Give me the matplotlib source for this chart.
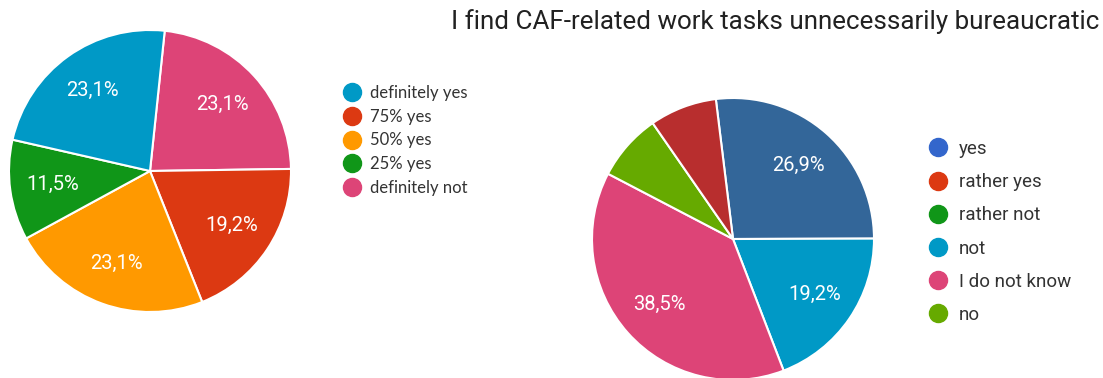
import matplotlib.pyplot as plt
from matplotlib.lines import Line2D

# left chart (legend order)
left_labels = ['definitely yes', '75% yes', '50% yes', '25% yes', 'definitely not']
left_values = [23.1, 19.2, 23.1, 11.5, 23.1]
left_colors = ['#0099c6', '#dc3912', '#ff9900', '#109618', '#dd4477']
left_order = [4, 1, 2, 3, 0]  # slices clockwise from the top

# right chart
right_title = 'I find CAF-related work tasks unnecessarily bureaucratic'
right_labels = ['yes', 'rather yes', 'rather not', 'not', 'I do not know', 'no']
right_legend_colors = ['#3366cc', '#dc3912', '#109618', '#0099c6', '#dd4477', '#66aa00']
right_values = [26.9, 19.2, 38.5, 7.7, 7.7]
right_slice_colors = ['#336699', '#0099c6', '#dd4477', '#66aa00', '#b82e2e']

W, H = 1103, 378


def pct(p):
    return f'{p:.1f}%'.replace('.', ',') if p > 10 else ''


def pie_axes(fig, cx, cy, r):
    ax = fig.add_axes([(cx - r) / W, (H - cy - r) / H, 2 * r / W, 2 * r / H])
    return ax


def draw_pie(ax, values, colors, start):
    wedges, texts, autotexts = ax.pie(
        values, colors=colors, startangle=start, counterclock=False,
        autopct=pct, pctdistance=0.7, radius=1,
        wedgeprops=dict(edgecolor='white', linewidth=1.5),
        textprops=dict(color='white', fontsize=14.5, family='Roboto'))
    for w in wedges:
        w.set_clip_on(False)
    # pie() pads the limits, so set them afterwards
    ax.set_xlim(-1, 1)
    ax.set_ylim(-1, 1)
    ax.axis('off')


fig = plt.figure(figsize=(W / 100, H / 100), dpi=100)

ax1 = pie_axes(fig, 150, 171, 141)
draw_pie(ax1, [left_values[i] for i in left_order],
         [left_colors[i] for i in left_order], 84)

ax2 = pie_axes(fig, 733, 239, 141)
draw_pie(ax2, right_values, right_slice_colors, 97)

h1 = [Line2D([], [], ls='', marker='o', ms=13, color=c) for c in left_colors]
leg1 = fig.legend(h1, left_labels, loc='upper left', bbox_to_anchor=(344 / W, 1 - 85 / H),
                  frameon=False, borderpad=0, borderaxespad=0, handlelength=1,
                  handletextpad=0.55, labelspacing=0.46,
                  prop=dict(family='Lato', size=12), labelcolor='#333333')

h2 = [Line2D([], [], ls='', marker='o', ms=13, color=c) for c in right_legend_colors]
leg2 = fig.legend(h2, right_labels, loc='upper left', bbox_to_anchor=(929 / W, 1 - 140 / H),
                  frameon=False, borderpad=0, borderaxespad=0, handlelength=1,
                  handletextpad=0.6, labelspacing=0.81,
                  prop=dict(family='Roboto', size=13.5), labelcolor='#333333')

fig.text(775 / W, 1 - 22 / H, right_title, ha='center', va='center',
         fontsize=18.75, family='Roboto', color='#212121')

fig.savefig('out.png', dpi=100)
